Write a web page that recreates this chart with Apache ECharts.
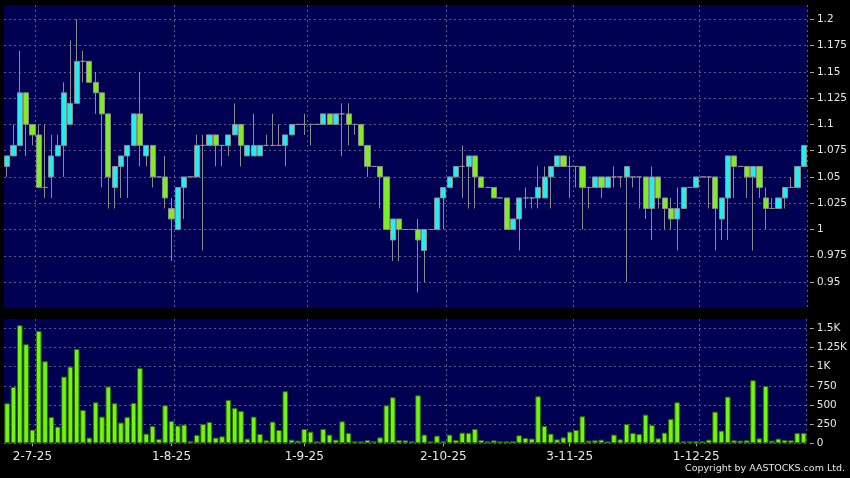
<!DOCTYPE html>
<html><head><meta charset="utf-8">
<script src="https://cdn.jsdelivr.net/npm/echarts@6/dist/echarts.min.js"></script>
<style>html,body{margin:0;padding:0;background:#000;}#c{width:850px;height:478px;}</style>
</head><body><div id="c"></div>
<script>
const dates = [
'25-6-25','26-6-25','27-6-25','30-6-25',
'2-7-25','3-7-25','4-7-25','7-7-25','8-7-25','9-7-25','10-7-25','11-7-25','14-7-25','15-7-25','16-7-25','17-7-25','18-7-25','21-7-25','22-7-25','23-7-25','24-7-25','25-7-25','28-7-25','29-7-25','30-7-25','31-7-25',
'1-8-25','4-8-25','5-8-25','6-8-25','7-8-25','8-8-25','11-8-25','12-8-25','13-8-25','14-8-25','15-8-25','18-8-25','19-8-25','20-8-25','21-8-25','22-8-25','25-8-25','26-8-25','27-8-25','28-8-25','29-8-25',
'1-9-25','2-9-25','3-9-25','4-9-25','5-9-25','8-9-25','9-9-25','10-9-25','11-9-25','12-9-25','15-9-25','16-9-25','17-9-25','18-9-25','19-9-25','22-9-25','23-9-25','24-9-25','25-9-25','26-9-25','29-9-25','30-9-25',
'2-10-25','3-10-25','6-10-25','8-10-25','9-10-25','10-10-25','13-10-25','14-10-25','15-10-25','16-10-25','17-10-25','20-10-25','21-10-25','22-10-25','23-10-25','24-10-25','27-10-25','28-10-25','30-10-25','31-10-25',
'3-11-25','4-11-25','5-11-25','6-11-25','7-11-25','10-11-25','11-11-25','12-11-25','13-11-25','14-11-25','17-11-25','18-11-25','19-11-25','20-11-25','21-11-25','24-11-25','25-11-25','26-11-25','27-11-25','28-11-25',
'1-12-25','2-12-25','3-12-25','4-12-25','5-12-25','8-12-25','9-12-25','10-12-25','11-12-25','12-12-25','15-12-25','16-12-25','17-12-25','18-12-25','19-12-25','22-12-25','23-12-25','24-12-25'
];
const opens = [
1.06,1.07,1.08,1.13,1.10,1.09,1.04,1.05,1.07,1.08,
1.10,1.12,1.16,1.16,1.14,1.13,1.11,1.04,1.06,1.07,
1.08,1.11,1.07,1.08,1.05,1.05,1.02,1.00,1.04,1.05,
1.05,1.08,1.08,1.09,1.08,1.08,1.09,1.10,1.07,1.07,
1.07,1.08,1.08,1.08,1.08,1.09,1.10,1.10,1.10,1.10,
1.10,1.11,1.10,1.11,1.11,1.10,1.10,1.08,1.06,1.06,
1.05,0.99,1.01,1.00,1.00,1.00,0.98,1.00,1.00,1.03,
1.04,1.05,1.06,1.06,1.07,1.05,1.04,1.04,1.03,1.03,
1.00,1.01,1.03,1.03,1.03,1.03,1.05,1.06,1.07,1.06,
1.06,1.06,1.04,1.04,1.05,1.04,1.05,1.05,1.05,1.05,
1.05,1.05,1.02,1.05,1.03,1.02,1.01,1.02,1.04,1.04,
1.05,1.05,1.05,1.01,1.03,1.07,1.06,1.06,1.05,1.06,
1.03,1.02,1.02,1.03,1.04,1.04,1.06
];
const closes = [
1.07,1.08,1.13,1.10,1.09,1.04,1.04,1.07,1.08,1.13,
1.12,1.16,1.16,1.14,1.13,1.11,1.05,1.06,1.07,1.08,
1.11,1.08,1.08,1.05,1.05,1.03,1.01,1.04,1.05,1.05,
1.08,1.08,1.09,1.08,1.08,1.09,1.10,1.08,1.08,1.08,
1.08,1.08,1.08,1.08,1.09,1.10,1.10,1.10,1.10,1.10,
1.11,1.10,1.11,1.11,1.10,1.10,1.08,1.06,1.06,1.05,
1.00,1.01,1.00,1.00,1.00,0.99,1.00,1.00,1.03,1.04,
1.05,1.06,1.06,1.07,1.05,1.04,1.04,1.03,1.03,1.00,
1.01,1.03,1.03,1.03,1.04,1.05,1.06,1.07,1.06,1.06,
1.06,1.04,1.04,1.05,1.04,1.05,1.05,1.05,1.06,1.05,
1.05,1.02,1.05,1.03,1.02,1.01,1.02,1.04,1.04,1.05,
1.05,1.05,1.02,1.03,1.07,1.06,1.06,1.05,1.06,1.04,
1.02,1.02,1.03,1.04,1.04,1.06,1.08
];
const lows = [
1.05,1.07,1.08,1.07,1.08,1.04,1.03,1.03,1.07,1.05,
1.10,1.12,1.14,1.14,1.11,1.04,1.02,1.02,1.03,1.03,
1.08,1.06,1.06,1.04,1.05,1.02,0.97,1.00,1.01,1.05,
1.05,0.98,1.08,1.06,1.06,1.07,1.09,1.06,1.07,1.07,
1.07,1.08,1.08,1.08,1.06,1.09,1.10,1.09,1.08,1.10,
1.10,1.10,1.10,1.07,1.08,1.09,1.08,1.05,1.06,1.02,
1.00,0.97,0.97,1.00,1.00,0.94,0.95,1.00,1.00,1.00,
1.04,1.05,1.03,1.02,1.02,1.04,1.04,1.03,1.03,1.00,
1.00,0.98,1.02,1.02,1.02,1.03,1.02,1.06,1.06,1.03,
1.04,1.00,1.02,1.04,1.03,1.04,1.04,1.04,0.95,1.04,
1.02,1.01,0.99,1.02,1.00,1.00,0.98,1.02,1.04,1.04,
1.05,1.02,0.98,0.99,0.99,1.03,1.06,1.03,0.98,1.03,
1.00,1.02,1.02,1.02,1.04,1.04,1.06
];
const highs = [
1.07,1.10,1.17,1.13,1.10,1.10,1.10,1.09,1.09,1.14,
1.18,1.20,1.17,1.16,1.15,1.13,1.11,1.06,1.07,1.08,
1.11,1.15,1.08,1.08,1.05,1.07,1.03,1.04,1.05,1.05,
1.09,1.09,1.09,1.09,1.08,1.09,1.12,1.10,1.08,1.11,
1.08,1.09,1.11,1.10,1.09,1.10,1.10,1.11,1.10,1.10,
1.11,1.11,1.11,1.12,1.12,1.10,1.10,1.08,1.06,1.06,
1.05,1.01,1.01,1.00,1.00,1.01,1.00,1.00,1.03,1.04,
1.05,1.06,1.08,1.07,1.07,1.05,1.04,1.04,1.03,1.03,
1.01,1.03,1.04,1.03,1.06,1.06,1.06,1.07,1.07,1.07,
1.06,1.06,1.04,1.05,1.05,1.05,1.06,1.05,1.06,1.05,
1.05,1.05,1.06,1.05,1.03,1.03,1.04,1.04,1.04,1.05,
1.05,1.05,1.05,1.03,1.07,1.07,1.06,1.06,1.06,1.06,
1.04,1.03,1.03,1.04,1.05,1.06,1.08
];
const volumes = [
522,735,1540,1292,178,1466,1070,344,218,870,
1000,1231,435,74,535,348,740,522,270,344,
526,983,126,226,57,496,291,231,244,30,
109,252,278,74,91,566,461,422,61,348,
122,39,283,174,679,48,35,187,152,26,
187,113,48,287,135,26,26,43,26,78,
496,600,43,39,26,626,113,26,100,30,
113,43,139,135,187,43,26,39,26,26,
30,104,70,61,613,226,126,52,78,152,
174,352,35,39,48,26,113,52,252,135,
122,374,239,65,139,318,535,26,26,30,
26,48,413,165,609,39,35,39,822,65,
748,35,61,43,39,135,135
];
const xTickLabels = ['2-7-25','1-8-25','1-9-25','2-10-25','3-11-25','1-12-25'];
const priceTicks = [0.95,0.975,1,1.025,1.05,1.075,1.1,1.125,1.15,1.175,1.2];
const volumeTicks = [0,250,500,750,1000,1250,1500];
const copyrightText = 'Copyright by AASTOCKS.com Ltd.';

const labelIdx = xTickLabels.map(d => dates.indexOf(d));
const isLabel = (i) => labelIdx.indexOf(i) >= 0;
const isSplit = (i) => labelIdx.indexOf(i - 1) >= 0;

const gridBg = '#000052';
const gridLineColor = '#5a5a8c';
const textColor = '#e6e6e6';
const FONT = 'DejaVu Sans';

const candleData = dates.map((d, i) => [opens[i], closes[i], lows[i], highs[i]]);

const chart = echarts.init(document.getElementById('c'), null, {renderer: 'canvas'});
const splitLineStyle = {show: true, interval: isSplit, lineStyle: {color: gridLineColor, type: [2, 3], width: 1}};

chart.setOption({
  backgroundColor: '#000000',
  animation: false,
  grid: [
    {left: 4, right: 42, top: 5, height: 303.3, show: true, backgroundColor: gridBg, borderWidth: 0},
    {left: 4, right: 42, top: 319, height: 124.3, show: true, backgroundColor: gridBg, borderWidth: 0}
  ],
  xAxis: [
    {type: 'category', gridIndex: 0, data: dates, boundaryGap: true,
     axisLine: {show: false}, axisTick: {show: false}, axisLabel: {show: false},
     splitLine: splitLineStyle},
    {type: 'category', gridIndex: 1, data: dates, boundaryGap: true, offset: 3,
     axisLine: {show: false},
     axisTick: {show: true, interval: isLabel, alignWithLabel: true, length: 3, lineStyle: {color: '#aaaaaa'}},
     axisLabel: {show: true, interval: isLabel, color: textColor, fontFamily: FONT, fontSize: 12, margin: 5},
     splitLine: splitLineStyle}
  ],
  yAxis: [
    {type: 'value', gridIndex: 0, position: 'right', min: 0.925, max: 1.2136, interval: 0.025, offset: 3,
     axisLine: {show: false},
     axisTick: {show: true, length: 4, customValues: priceTicks, lineStyle: {color: '#aaaaaa'}},
     axisLabel: {color: textColor, fontFamily: FONT, fontSize: 10.5, margin: 7, customValues: priceTicks,
       formatter: v => (v < 0.94 || v > 1.201) ? '' : String(+(+v).toFixed(3))},
     splitLine: {show: true, lineStyle: {color: gridLineColor, type: [2, 3], width: 1}}},
    {type: 'value', gridIndex: 1, position: 'right', min: 0, max: 1621, interval: 250, offset: 3,
     axisLine: {show: false},
     axisTick: {show: true, length: 4, customValues: volumeTicks, lineStyle: {color: '#aaaaaa'}},
     axisLabel: {color: textColor, fontFamily: FONT, fontSize: 10.5, margin: 7, customValues: volumeTicks,
       formatter: v => v > 1501 ? '' : (v >= 1000 ? (v / 1000) + 'K' : String(v))},
     splitLine: {show: true, lineStyle: {color: gridLineColor, type: [2, 3], width: 1}}}
  ],
  series: [
    {type: 'candlestick', xAxisIndex: 0, yAxisIndex: 0, data: candleData, barWidth: 5.6,
     itemStyle: {color: '#22eeee', color0: '#7eee22', borderColor: '#8c8c8c', borderColor0: '#8c8c8c',
       borderColorDoji: '#8c8c8c', borderWidth: 1}},
    {type: 'bar', xAxisIndex: 1, yAxisIndex: 1, data: volumes, barWidth: 5.6,
     itemStyle: {color: '#72f60c', borderColor: '#2f6a00', borderWidth: 1}}
  ],
  graphic: [
    {type: 'text', right: 5, top: 464,
     style: {text: copyrightText, fill: textColor, font: '9.5px "DejaVu Sans"'}}
  ]
});
</script>
</body></html>
